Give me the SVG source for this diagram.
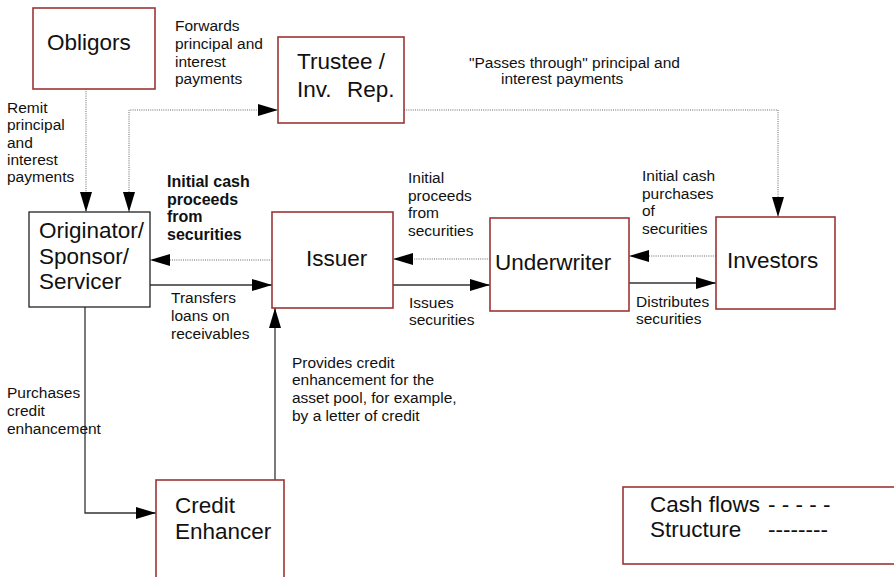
<svg xmlns="http://www.w3.org/2000/svg" width="894" height="577" viewBox="0 0 894 577">
<style>
  .box { fill: #fff; stroke: #9b3535; stroke-width: 1.6; }
  .boxk { fill: #fff; stroke: #222; stroke-width: 1.3; }
  .nt { font-family: "Liberation Sans", Arial, sans-serif; font-size: 22.5px; fill: #111; }
  .lt { font-family: "Liberation Sans", Arial, sans-serif; font-size: 15.5px; fill: #111; }
  .bt { font-family: "Liberation Sans", Arial, sans-serif; font-size: 16px; font-weight: bold; fill: #111; }
  .solid { fill: none; stroke: #333; stroke-width: 1.3; }
  .dot { fill: none; stroke: #666; stroke-width: 1; stroke-dasharray: 1 1.2; }
</style>
<defs>
  <marker id="ah" markerUnits="userSpaceOnUse" markerWidth="20" markerHeight="12" refX="20" refY="6" orient="auto-start-reverse">
    <path d="M0,0 L20,6 L0,12 z" fill="#000"/>
  </marker>
</defs>
<rect width="894" height="577" fill="#fff"/>

<g id="connectors">
  <path class="dot" d="M86,89 V212" marker-end="url(#ah)"/>
  <path class="dot" d="M129,212 V110 H278" marker-start="url(#ah)" marker-end="url(#ah)"/>
  <path class="dot" d="M404,110 H778 V217" marker-end="url(#ah)"/>
  <path class="dot" d="M272,260 H150" marker-end="url(#ah)"/>
  <path class="solid" d="M150,285 H272" marker-end="url(#ah)"/>
  <path class="dot" d="M490,259 H393" marker-end="url(#ah)"/>
  <path class="solid" d="M393,285 H490" marker-end="url(#ah)"/>
  <path class="dot" d="M716,256 H629" marker-end="url(#ah)"/>
  <path class="solid" d="M629,283 H716" marker-end="url(#ah)"/>
  <path class="solid" d="M85,307 V513 H156" marker-end="url(#ah)"/>
  <path class="solid" d="M275,480 V308" marker-end="url(#ah)"/>
</g>

<g id="obligors">
  <rect class="box" x="33" y="8" width="122" height="81"/>
  <text class="nt" x="47" y="50">Obligors</text>
</g>
<g id="trustee">
  <rect class="box" x="278" y="37" width="126" height="86"/>
  <text class="nt" x="297" y="69">Trustee /</text>
  <text class="nt" x="297" y="97">Inv.<tspan x="347">Rep.</tspan></text>
</g>
<g id="originator">
  <rect class="boxk" x="29" y="212" width="121" height="95"/>
  <text class="nt" x="39" y="238">Originator/</text>
  <text class="nt" x="39" y="264">Sponsor/</text>
  <text class="nt" x="39" y="289">Servicer</text>
</g>
<g id="issuer">
  <rect class="box" x="272" y="212" width="121" height="96"/>
  <text class="nt" x="306" y="266">Issuer</text>
</g>
<g id="underwriter">
  <rect class="box" x="490" y="218" width="139" height="93"/>
  <text class="nt" x="495" y="270">Underwriter</text>
</g>
<g id="investors">
  <rect class="box" x="716" y="217" width="119" height="92"/>
  <text class="nt" x="727" y="268">Investors</text>
</g>
<g id="credit-enhancer">
  <rect class="box" x="156" y="480" width="128" height="120"/>
  <text class="nt" x="175" y="513">Credit</text>
  <text class="nt" x="175" y="539">Enhancer</text>
</g>
<g id="legend">
  <rect class="box" x="623" y="487" width="300" height="77"/>
  <text class="nt" x="650" y="512">Cash flows<tspan x="768">- - - - -</tspan></text>
  <text class="nt" x="650" y="537">Structure<tspan x="768">--------</tspan></text>
</g>

<g id="labels">
  <text class="lt" x="175" y="31">Forwards</text>
  <text class="lt" x="175" y="49">principal and</text>
  <text class="lt" x="175" y="67">interest</text>
  <text class="lt" x="175" y="84">payments</text>

  <text class="lt" x="7" y="113">Remit</text>
  <text class="lt" x="7" y="130">principal</text>
  <text class="lt" x="7" y="148">and</text>
  <text class="lt" x="7" y="165">interest</text>
  <text class="lt" x="7" y="182">payments</text>

  <text class="lt" x="469" y="68">"Passes through" principal and</text>
  <text class="lt" x="501" y="84">interest payments</text>

  <text class="bt" x="167" y="187">Initial cash</text>
  <text class="bt" x="167" y="204.5">proceeds</text>
  <text class="bt" x="167" y="222">from</text>
  <text class="bt" x="167" y="239.5">securities</text>

  <text class="lt" x="408" y="183">Initial</text>
  <text class="lt" x="408" y="200.5">proceeds</text>
  <text class="lt" x="408" y="218">from</text>
  <text class="lt" x="408" y="236">securities</text>

  <text class="lt" x="642" y="181">Initial cash</text>
  <text class="lt" x="642" y="198.5">purchases</text>
  <text class="lt" x="642" y="216">of</text>
  <text class="lt" x="642" y="234">securities</text>

  <text class="lt" x="171" y="303">Transfers</text>
  <text class="lt" x="171" y="321">loans on</text>
  <text class="lt" x="171" y="339">receivables</text>

  <text class="lt" x="409" y="308">Issues</text>
  <text class="lt" x="409" y="325">securities</text>

  <text class="lt" x="636" y="307">Distributes</text>
  <text class="lt" x="636" y="324">securities</text>

  <text class="lt" x="7" y="398">Purchases</text>
  <text class="lt" x="7" y="416">credit</text>
  <text class="lt" x="7" y="434">enhancement</text>

  <text class="lt" x="292" y="368">Provides credit</text>
  <text class="lt" x="292" y="385">enhancement for the</text>
  <text class="lt" x="292" y="403">asset pool, for example,</text>
  <text class="lt" x="292" y="421">by a letter of credit</text>
</g>
</svg>
